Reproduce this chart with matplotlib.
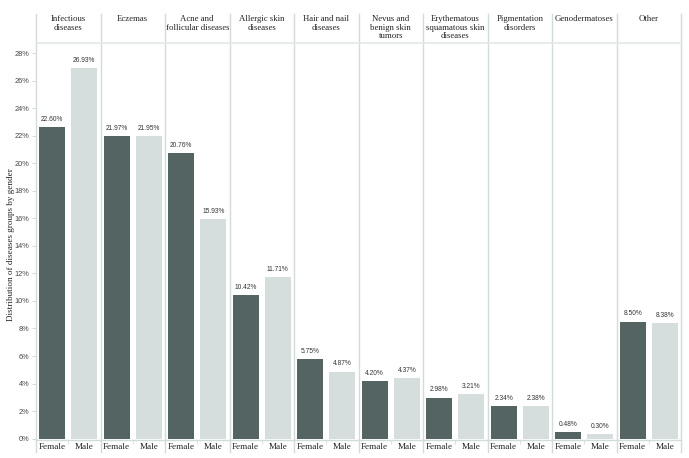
import matplotlib
matplotlib.use("Agg")
import matplotlib.pyplot as plt
from matplotlib.transforms import blended_transform_factory
import numpy as np

categories = ["Infectious\ndiseases", "Eczemas", "Acne and\nfollicular diseases",
              "Allergic skin\ndiseases", "Hair and nail\ndiseases",
              "Nevus and\nbenign skin\ntumors", "Erythematous\nsquamatous skin\ndiseases",
              "Pigmentation\ndisorders", "Genodermatoses", "Other"]
genders = ["Female", "Male"]
female = [22.60, 21.97, 20.76, 10.42, 5.75, 4.20, 2.98, 2.34, 0.48, 8.50]
male = [26.93, 21.95, 15.93, 11.71, 4.87, 4.37, 3.21, 2.38, 0.30, 8.38]
yticks = list(range(0, 29, 2))

c_f = "#546462"
c_m = "#d5dedc"
line_c = "#d3dbd9"
serif = ["Liberation Serif", "DejaVu Serif"]
sans = ["Liberation Sans", "DejaVu Sans"]

fig = plt.figure(figsize=(6.89, 4.58), dpi=100)
ax = fig.add_axes([36/689, 1-440/458, (681-36)/689, (440-43)/458])

n = len(categories)
xf = np.arange(n) * 2
xm = xf + 1
w = 0.81
ax.bar(xf, female, width=w, color=c_f)
ax.bar(xm, male, width=w, color=c_m)
for x, v in zip(xf, female):
    ax.text(x, v + 0.3, f"{v:.2f}%", ha="center", va="bottom", fontsize=4.8,
            family=sans, color="#333333")
for x, v in zip(xm, male):
    ax.text(x, v + 0.3, f"{v:.2f}%", ha="center", va="bottom", fontsize=4.8,
            family=sans, color="#333333")

ax.set_xlim(-0.5, 2 * n - 0.5)
ax.set_ylim(-0.1, 28.73)
ax.set_yticks(yticks)
ax.set_yticklabels([f"{t}%" for t in yticks], family=sans, fontsize=5.3, color="#444444")
ax.set_xticks(list(xf) + list(xm))
ax.set_xticklabels([genders[0]] * n + [genders[1]] * n, family=serif, fontsize=6.6, color="#222222")
ax.tick_params(axis="x", length=0, pad=2)
ax.tick_params(axis="y", length=3, color=line_c, pad=2)
ax.set_xticks(np.arange(0.5, 2 * n - 1, 2), minor=True)
ax.tick_params(axis="x", which="minor", length=3, color=line_c)

for s in ["top", "right"]:
    ax.spines[s].set_visible(False)
ax.spines["left"].set_visible(False)
ax.spines["bottom"].set_color(line_c)
ax.spines["bottom"].set_linewidth(1.0)

# header line and panel separators
trans = blended_transform_factory(ax.transData, fig.transFigure)
y_top = 1 - 14 / 458
y_bot = 1 - 452 / 458
for k in range(n + 1):
    xs = 2 * k - 0.5
    ax.plot([xs, xs], [y_bot, y_top], transform=trans, color=line_c, lw=1.0,
            clip_on=False, zorder=0)
ax.axhline(28.73, color="#e3e9e7", lw=1.2, clip_on=False)
for k, c in enumerate(categories):
    ax.text(2 * k + 0.5, 1 - 15 / 458, c, transform=trans, ha="center", va="top",
            family=serif, fontsize=6.3, color="#222222", linespacing=1.1)

fig.text(11 / 689, 1 - 245 / 458, "Distribution of diseases groups by gender", rotation=90,
         ha="center", va="center", family=serif, fontsize=6.6, color="#222222")

fig.savefig("out.png", dpi=100)
